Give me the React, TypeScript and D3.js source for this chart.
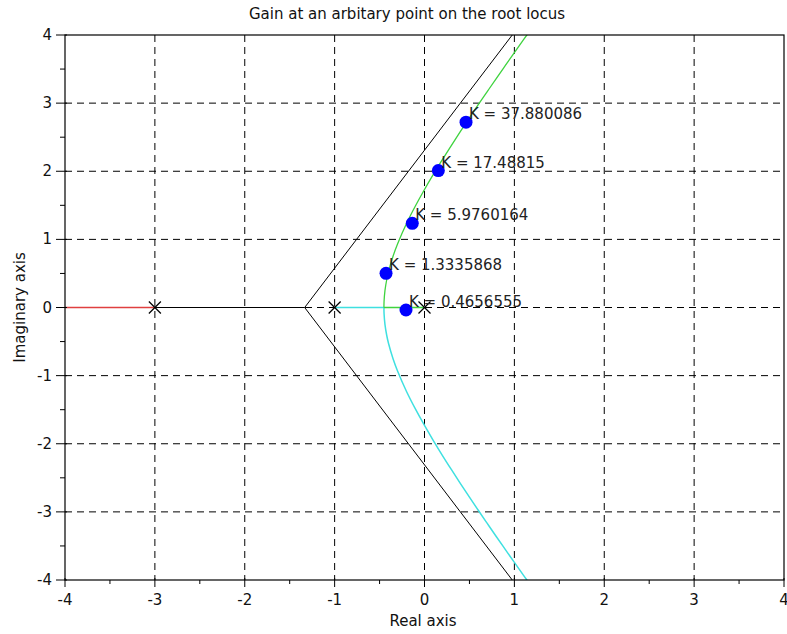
import React from "react";
import * as d3 from "d3";

// ---- data ----
const xTicks = [-4, -3, -2, -1, 0, 1, 2, 3, 4];
const yTicks = [-4, -3, -2, -1, 0, 1, 2, 3, 4];
const minorTicks = [-3.5, -2.5, -1.5, -0.5, 0.5, 1.5, 2.5, 3.5];

const poles = [0, -1, -3];
const centroid = -1.3333;

// upper complex branch of the locus (real, imag)
const branchRe = [-0.4514, -0.45, -0.44, -0.42, -0.4, -0.35, -0.3, -0.2, -0.1, 0, 0.1, 0.2, 0.3, 0.4, 0.5, 0.6, 0.7, 0.8, 0.9, 1.0, 1.1, 1.2];
const branchIm = [0, 0.087, 0.247, 0.411, 0.529, 0.753, 0.933, 1.233, 1.493, 1.732, 1.957, 2.173, 2.381, 2.585, 2.784, 2.98, 3.173, 3.365, 3.554, 3.742, 3.928, 4.113];

const breakaway = -0.4514;

// asymptote end points (real, imag)
const asymRe = [1.265, centroid, 1.265];
const asymIm = [4.5, 0, -4.5];

// selected gain points
const gainRe = [0.462, 0.154, -0.136, -0.428, -0.206];
const gainIm = [2.72, 2.01, 1.236, 0.502, -0.037];
const gainLabels = ["K = 37.880086", "K = 17.48815", "K = 5.9760164", "K = 1.3335868", "K = 0.4656555"];

const W = 787;
const H = 634;
const L = 65, R = 784, T = 35, B = 580;
const FONT = "DejaVu Sans, sans-serif";

export default function App() {
  const x = d3.scaleLinear().domain([-4, 4]).range([L, R]);
  const y = d3.scaleLinear().domain([-4, 4]).range([B, T]);

  const line = d3.line<[number, number]>().x(d => x(d[0])).y(d => y(d[1]));
  const curve = d3.line<[number, number]>().x(d => x(d[0])).y(d => y(d[1])).curve(d3.curveCatmullRom);

  const upper: [number, number][] = branchRe.map((r, i) => [r, branchIm[i]]);
  const lower: [number, number][] = branchRe.map((r, i) => [r, -branchIm[i]]);
  const asym: [number, number][] = asymRe.map((r, i) => [r, asymIm[i]]);

  const greenCol = "#3fd33f";
  const cyanCol = "#3fe0e0";
  const redCol = "#e04040";

  return (
    <svg width={W} height={H} style={{ position: "absolute", left: 0, top: 0, background: "#fff" }} fontFamily={FONT}>
      <defs>
        <clipPath id="plotclip">
          <rect x={L} y={T} width={R - L} height={B - T} />
        </clipPath>
      </defs>
      <rect x={0} y={0} width={W} height={H} fill="#fff" />
      {/* grid */}
      <g stroke="#000" strokeWidth={1} strokeDasharray="7,5">
        {xTicks.slice(1, -1).map(t => (
          <line key={"gx" + t} x1={x(t)} x2={x(t)} y1={T} y2={B} />
        ))}
        {yTicks.slice(1, -1).map(t => (
          <line key={"gy" + t} x1={L} x2={R} y1={y(t)} y2={y(t)} />
        ))}
      </g>
      <g clipPath="url(#plotclip)" fill="none">
        {/* asymptotes & real axis segment */}
        <path d={line(asym) || ""} stroke="#000" strokeWidth={1} />
        <path d={line([[-4.5, 0], [centroid, 0]]) || ""} stroke="#000" strokeWidth={1} />
        {/* red branch */}
        <path d={line([[poles[2], 0], [-4.5, 0]]) || ""} stroke={redCol} strokeWidth={1.3} />
        {/* cyan branch */}
        <path d={line([[poles[1], 0], [breakaway, 0]]) || ""} stroke={cyanCol} strokeWidth={1.5} />
        <path d={curve(lower) || ""} stroke={cyanCol} strokeWidth={1.5} />
        {/* green branch */}
        <path d={line([[poles[0], 0], [breakaway, 0]]) || ""} stroke={greenCol} strokeWidth={1.3} />
        <path d={curve(upper) || ""} stroke={greenCol} strokeWidth={1.3} />
      </g>
      {/* poles */}
      <g stroke="#000" strokeWidth={1.2}>
        {poles.map(p => (
          <g key={"p" + p} transform={`translate(${x(p)},${y(0)})`}>
            <line x1={-6} y1={-6} x2={6} y2={6} />
            <line x1={-6} y1={6} x2={6} y2={-6} />
          </g>
        ))}
      </g>
      {/* gain points */}
      {gainRe.map((r, i) => (
        <g key={"k" + i}>
          <circle cx={x(r)} cy={y(gainIm[i])} r={6.5} fill="#0000ff" />
          <text x={x(r) + 3} y={y(gainIm[i]) - 3} fontSize={15} fill="#222">
            {gainLabels[i]}
          </text>
        </g>
      ))}
      {/* frame */}
      <rect x={L} y={T} width={R - L} height={B - T} fill="none" stroke="#000" strokeWidth={1.2} />
      {/* axis ticks */}
      <g stroke="#000" strokeWidth={1}>
        {xTicks.map(t => (
          <line key={"tx" + t} x1={x(t)} x2={x(t)} y1={B - 2} y2={B + 7} />
        ))}
        {minorTicks.map(t => (
          <line key={"mx" + t} x1={x(t)} x2={x(t)} y1={B} y2={B + 4} />
        ))}
        {yTicks.map(t => (
          <line key={"ty" + t} x1={L - 9} x2={L + 2} y1={y(t)} y2={y(t)} />
        ))}
        {minorTicks.map(t => (
          <line key={"my" + t} x1={L - 5} x2={L} y1={y(t)} y2={y(t)} />
        ))}
      </g>
      <g fontSize={15} fill="#111">
        {xTicks.map(t => (
          <text key={"lx" + t} x={x(t)} y={B + 25} textAnchor="middle">{t}</text>
        ))}
        {yTicks.map(t => (
          <text key={"ly" + t} x={L - 13} y={y(t) + 5} textAnchor="end">{t}</text>
        ))}
      </g>
      <text x={407} y={19} textAnchor="middle" fontSize={15} fill="#111">Gain at an arbitary point on the root locus</text>
      <text x={423} y={626} textAnchor="middle" fontSize={15} fill="#111">Real axis</text>
      <text transform={`translate(25,${(T + B) / 2}) rotate(-90)`} textAnchor="middle" fontSize={15} fill="#111">Imaginary axis</text>
    </svg>
  );
}
